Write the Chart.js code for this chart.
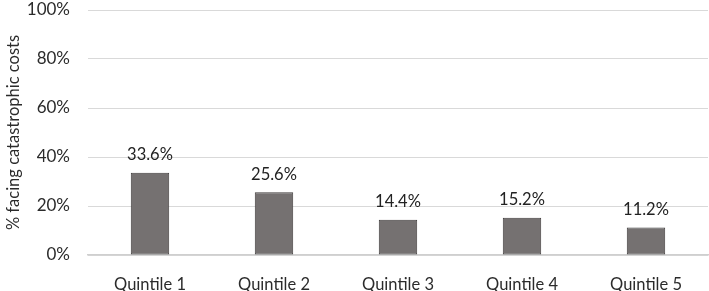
<!DOCTYPE html>
<html>
<head>
<meta charset="utf-8">
<script src="https://cdn.jsdelivr.net/npm/chart.js@4"></script>
<style>
  html, body { margin: 0; padding: 0; background: #fff; }
  #wrap { width: 709px; height: 291px; position: relative; }
</style>
</head>
<body>
<div id="wrap"><canvas id="chart"></canvas></div>
<script>
  // Data
  const quintiles = ["Quintile 1", "Quintile 2", "Quintile 3", "Quintile 4", "Quintile 5"];
  const catastrophicPct = [33.6, 25.6, 14.4, 15.2, 11.2];
  const yTicks = [0, 20, 40, 60, 80, 100];

  const FONT = "Lato, 'Open Sans', sans-serif";
  const TEXT = "#2b2b2b";

  // Value labels above each bar
  const barLabels = {
    id: "barLabels",
    afterDatasetsDraw(chart) {
      const ctx = chart.ctx;
      const meta = chart.getDatasetMeta(0);
      ctx.save();
      ctx.font = "16.5px " + FONT;
      ctx.fillStyle = "#222";
      ctx.textAlign = "center";
      ctx.textBaseline = "middle";
      meta.data.forEach((bar, i) => {
        ctx.fillText(catastrophicPct[i].toFixed(1) + "%", bar.x, bar.y - 18);
      });
      ctx.restore();
    },
  };

  new Chart(document.getElementById("chart"), {
    type: "bar",
    data: {
      labels: quintiles,
      datasets: [
        {
          data: catastrophicPct,
          backgroundColor: "#757171",
          borderColor: "#3f3c3c",
          borderWidth: 1,
          borderSkipped: false,
          categoryPercentage: 1,
          barPercentage: 0.31,
        },
      ],
    },
    options: {
      responsive: true,
      maintainAspectRatio: false,
      animation: false,
      layout: { padding: { top: 0, right: 1, left: 0, bottom: 0 } },
      plugins: { legend: { display: false }, tooltip: { enabled: false } },
      scales: {
        x: {
          grid: { display: false, drawTicks: false },
          border: { color: "#cfcfcf", width: 1.5 },
          ticks: { color: TEXT, font: { family: FONT, size: 16.5 }, padding: 20 },
          afterFit: (s) => { s.height = 36; },
        },
        y: {
          min: 0,
          max: 100,
          afterBuildTicks: (s) => { s.ticks = yTicks.map((v) => ({ value: v })); },
          grid: { color: "#d9d9d9", drawTicks: false },
          border: { display: false },
          ticks: {
            color: TEXT,
            font: { family: FONT, size: 17 },
            padding: 18,
            callback: (v) => v + "%",
          },
          title: {
            display: true,
            text: "% facing catastrophic costs",
            color: TEXT,
            font: { family: FONT, size: 16.5 },
            padding: { top: 4, bottom: 0 },
          },
          afterFit: (s) => { s.width = 88; s.paddingTop = 10; },
        },
      },
    },
    plugins: [barLabels],
  });
</script>
</body>
</html>
